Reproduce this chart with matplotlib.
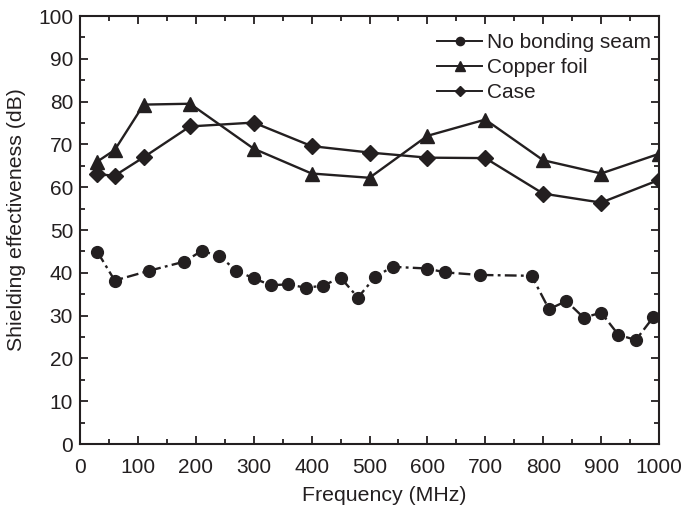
import matplotlib
matplotlib.use("Agg")
import matplotlib.pyplot as plt
from matplotlib.ticker import MultipleLocator

plt.rcParams['font.family'] = ['Liberation Sans', 'DejaVu Sans']

ink = '#231f20'

# No bonding seam
freq_seam = [30, 60, 120, 180, 210, 240, 270, 300, 330, 360, 390, 420, 450, 480,
             510, 540, 600, 630, 690, 780, 810, 840, 870, 900, 930, 960, 990]
se_seam = [44.9, 38.2, 40.5, 42.6, 45.1, 44.0, 40.5, 38.7, 37.1, 37.3, 36.5, 37.0, 38.9, 34.2,
           39.1, 41.4, 41.0, 40.1, 39.5, 39.3, 31.5, 33.4, 29.5, 30.7, 25.5, 24.3, 29.6]

# Copper foil
freq_foil = [30, 60, 110, 190, 300, 400, 500, 600, 700, 800, 900, 1000]
se_foil = [66.0, 68.7, 79.3, 79.5, 69.0, 63.2, 62.2, 72.0, 75.8, 66.3, 63.2, 67.8]

# Case
freq_case = [30, 60, 110, 190, 300, 400, 500, 600, 700, 800, 900, 1000]
se_case = [63.0, 62.7, 67.0, 74.2, 75.1, 69.6, 68.1, 66.9, 66.8, 58.5, 56.4, 61.7]

fig = plt.figure(figsize=(6.86, 5.14), dpi=100)
ax = fig.add_axes([80 / 686, 1 - 444 / 514, 579 / 686, 428 / 514])

ax.plot(freq_seam, se_seam, color=ink, lw=1.7, linestyle=(0, (5, 1.8, 1.2, 1.8)),
        marker='o', markersize=8.5, label='No bonding seam')
ax.plot(freq_foil, se_foil, color=ink, lw=1.7, linestyle='-',
        marker='^', markersize=9.5, label='Copper foil')
ax.plot(freq_case, se_case, color=ink, lw=1.7, linestyle='-',
        marker='D', markersize=8, label='Case')

ax.set_xlim(0, 1000)
ax.set_ylim(0, 100)
ax.xaxis.set_major_locator(MultipleLocator(100))
ax.xaxis.set_minor_locator(MultipleLocator(50))
ax.yaxis.set_major_locator(MultipleLocator(10))
ax.yaxis.set_minor_locator(MultipleLocator(5))
ax.tick_params(which='both', direction='in', top=True, right=True, color=ink,
               width=1.3, labelsize=15, labelcolor=ink)
ax.tick_params(axis='x', pad=10)
ax.tick_params(axis='y', pad=5)
ax.tick_params(which='major', length=6)
ax.tick_params(which='minor', length=3.5)
for sp in ax.spines.values():
    sp.set_linewidth(1.5)
    sp.set_color(ink)

ax.set_xlabel('Frequency (MHz)', fontsize=15.3, color=ink)
ax.set_ylabel('Shielding effectiveness (dB)', fontsize=15.3, color=ink)
ax.xaxis.set_label_coords(0.525, -0.098)
ax.yaxis.set_label_coords(-0.093, 0.525)

leg = ax.legend(loc='upper right', frameon=False, fontsize=15, handlelength=2.2,
                handletextpad=0.2, labelspacing=0.3, markerscale=0.7,
                borderaxespad=0.0, bbox_to_anchor=(1.0, 0.98))
for t in leg.get_texts():
    t.set_color(ink)
for h in leg.get_lines():
    h.set_linestyle('-')
    h.set_linewidth(1.4)

fig.savefig('out.png', dpi=100)
